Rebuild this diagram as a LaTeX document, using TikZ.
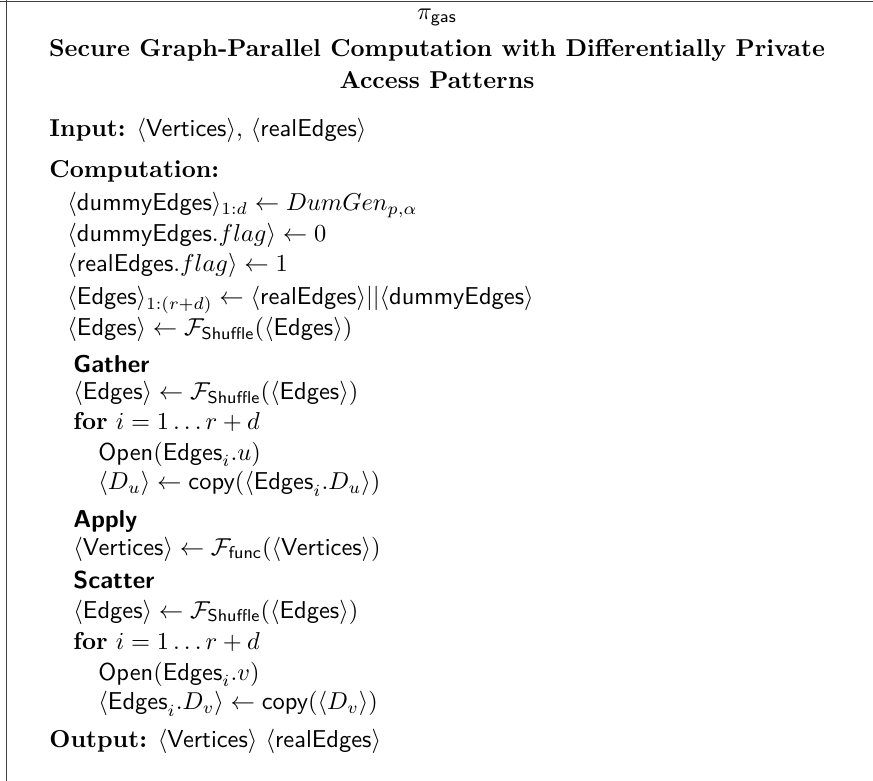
\documentclass[tikz,border=0pt]{standalone}
\usepackage{amsmath,amssymb}
\begin{document}
\begin{tikzpicture}[x=0.4093pt,y=-0.4093pt,
  txt/.style={inner sep=0pt,anchor=base west},
  ttl/.style={inner sep=0pt,anchor=base,font=\bfseries},
  frameline/.style={draw=black!75,line width=0.6pt}]
\useasboundingbox (0,0) rectangle (873,781);
\coordinate (tl) at (0,1.5);
\coordinate (tr) at (873,1.5);
\coordinate (lt) at (6.5,0);
\coordinate (lb) at (6.5,781);
\draw[frameline] (tl) -- (tr);
\draw[frameline] (lt) -- (lb);
\node[inner sep=0pt,anchor=base] (pi) at (437,19) {$\pi_{\mathsf{gas}}$};
\node[ttl] (t1) at (437,57) {Secure Graph-Parallel Computation with Differentially Private};
\node[ttl] (t2) at (437,89) {Access Patterns};
\node[txt] (in) at (49,136) {\textbf{Input:} $\langle\textsf{Vertices}\rangle$, $\langle\textsf{realEdges}\rangle$};
\node[txt] (comp) at (49,177) {\textbf{Computation:}};
\node[txt] (c1) at (67,211) {$\langle\textsf{dummyEdges}\rangle_{1:d}\leftarrow DumGen_{p,\alpha}$};
\node[txt] (c2) at (67,242) {$\langle\textsf{dummyEdges}.flag\rangle\leftarrow 0$};
\node[txt] (c3) at (67,271) {$\langle\textsf{realEdges}.flag\rangle\leftarrow 1$};
\node[txt] (c4) at (67,305) {$\langle\textsf{Edges}\rangle_{1:(r+d)}\leftarrow\langle\textsf{realEdges}\rangle||\langle\textsf{dummyEdges}\rangle$};
\node[txt] (c5) at (67,336) {$\langle\textsf{Edges}\rangle\leftarrow\mathcal{F}_{\textsf{Shuffle}}(\langle\textsf{Edges}\rangle)$};
\node[txt] (g0) at (73,373) {\textsf{\bfseries Gather}};
\node[txt] (g1) at (73,400) {$\langle\textsf{Edges}\rangle\leftarrow\mathcal{F}_{\textsf{Shuffle}}(\langle\textsf{Edges}\rangle)$};
\node[txt] (g2) at (73,429) {\textbf{for} $i=1\ldots r+d$};
\node[txt] (g3) at (98,460) {$\textsf{Open}(\textsf{Edges}_i.u)$};
\node[txt] (g4) at (98,490) {$\langle D_u\rangle\leftarrow\textsf{copy}(\langle\textsf{Edges}_i.D_u\rangle)$};
\node[txt] (a0) at (73,527) {\textsf{\bfseries Apply}};
\node[txt] (a1) at (73,555) {$\langle\textsf{Vertices}\rangle\leftarrow\mathcal{F}_{\textsf{func}}(\langle\textsf{Vertices}\rangle)$};
\node[txt] (s0) at (73,589) {\textsf{\bfseries Scatter}};
\node[txt] (s1) at (73,618) {$\langle\textsf{Edges}\rangle\leftarrow\mathcal{F}_{\textsf{Shuffle}}(\langle\textsf{Edges}\rangle)$};
\node[txt] (s2) at (73,649) {\textbf{for} $i=1\ldots r+d$};
\node[txt] (s3) at (98,680) {$\textsf{Open}(\textsf{Edges}_i.v)$};
\node[txt] (s4) at (98,710) {$\langle\textsf{Edges}_i.D_v\rangle\leftarrow\textsf{copy}(\langle D_v\rangle)$};
\node[txt] (out) at (49,747) {\textbf{Output:} $\langle\textsf{Vertices}\rangle$ $\langle\textsf{realEdges}\rangle$};
\end{tikzpicture}
\end{document}
